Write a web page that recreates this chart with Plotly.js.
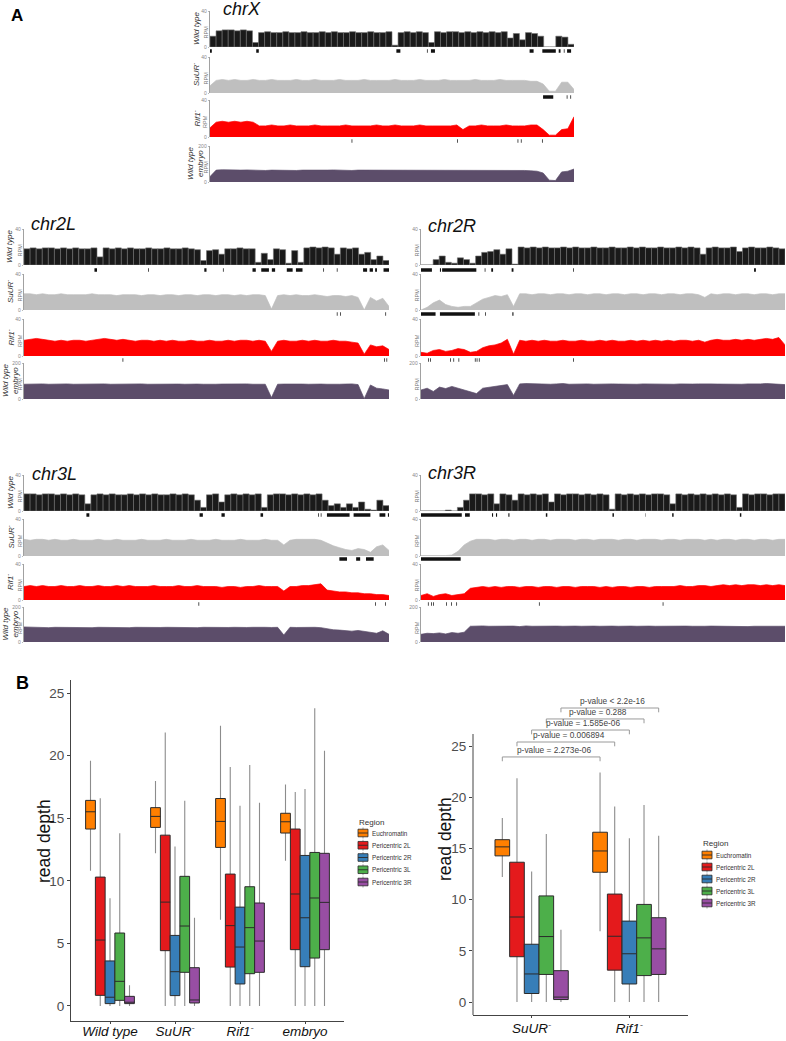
<!DOCTYPE html>
<html><head><meta charset="utf-8">
<script src="https://cdn.plot.ly/plotly-3.0.1.min.js"></script>
<style>html,body{margin:0;padding:0;background:#fff}#chart{width:786px;height:1041px}</style>
</head><body><div id="chart"></div>
<script>
// ================= DATA =================
const chromosomes = ['chrX','chr2L','chr2R','chr3L','chr3R'];
const sampleNames = ['Wild type','SuUR<sup>-</sup>','Rif1<sup>-</sup>','Wild type<br>embryo'];
const sampleColors = ['#1a1a1a','#bfbfbf','#ff0000','#5c4d6a'];
const rpmMax = [40,40,40,200];

// coverage (RPM) along each chromosome arm, equal-width bins
const chrX_wt = [12,18,19,19,18,19,18,5,16,17, 16,16,17,16,16,17,16,16,17,16, 17,16,16,17,16,16,17,16,16,17, 2,16,17,16,17,16,5,17,16,17, 17,16,17,16,17,16,17,16,17,10, 15,8,16,15,12,0,0,12,11,3];
const chrX_suur = [8,14,15,14,15,14,14,15,14,14, 15,14,14,14,15,14,14,15,14,14, 14,15,14,14,14,15,14,14,14,14, 15,14,14,14,15,14,14,14,15,14, 14,14,14,15,14,14,14,15,14,14, 14,14,13,13,10,2,2,12,12,4];
const chrX_rif1 = [10,16,17,16,17,16,17,16,12,12, 13,12,12,13,12,12,12,13,12,12, 12,12,13,12,12,12,12,13,12,12, 13,12,12,12,13,12,12,12,12,12, 13,8,12,12,13,12,12,12,13,12, 12,12,13,13,8,2,2,8,9,22];
const chrX_embryo = [30,66,68,66,64,66,67,65,66,64, 66,65,67,66,64,66,65,66,64,66, 67,65,66,64,66,66,65,67,66,64, 66,65,66,67,64,66,65,66,64,66, 67,65,66,64,66,65,67,66,64,66, 65,64,62,60,50,10,8,56,60,72];

const chr2L_wt = [18,19,18,19,19,18,19,18,19,18, 18,19,9,19,18,19,18,19,18,18, 19,18,18,19,18,18,19,18,17,5, 16,17,12,18,18,19,18,18,3,13, 6,18,17,2,16,3,19,20,19,20, 19,12,19,18,19,12,14,6,10,5];
const chr2L_suur = [18,18,17,18,17,17,18,17,17,17, 17,18,17,17,17,16,17,17,17,16, 17,17,16,17,17,16,17,17,16,17, 17,16,17,17,16,17,16,17,17,16, 1,16,17,16,17,16,16,17,16,15, 16,16,15,16,14,0,14,10,13,4];
const chr2L_rif1 = [17,18,19,18,17,16,17,16,17,17, 16,17,18,19,18,17,18,17,16,17, 17,16,17,16,17,16,16,17,16,16, 17,16,16,17,16,17,17,16,17,16, 5,16,17,16,16,17,16,17,16,16, 17,16,16,15,14,2,12,10,11,7];
const chr2L_embryo = [82,84,83,84,82,84,83,84,82,83, 84,82,83,84,82,83,84,82,83,84, 82,83,84,82,84,83,82,84,83,82, 84,82,83,84,82,83,84,82,83,82, 8,82,83,84,82,83,82,84,83,82, 84,82,83,84,80,2,78,60,56,50];

const chr2R_wt = [0,0,6,10,3,2,8,6,2,10, 14,15,17,12,18,1,20,19,20,19, 20,19,19,20,19,20,19,19,20,19, 19,20,19,19,20,19,20,19,19,20, 19,19,20,19,20,19,12,19,20,19, 19,20,15,19,20,19,19,20,19,18];
const chr2R_suur = [0,3,8,11,6,4,3,4,4,8, 12,14,16,15,17,4,18,18,17,18, 18,17,18,18,17,18,18,17,18,18, 17,18,18,17,18,18,17,18,18,17, 18,18,17,18,18,17,14,18,17,18, 18,17,18,18,17,18,18,17,18,18];
const chr2R_rif1 = [4,3,6,7,5,6,8,7,4,5, 9,11,12,14,18,2,17,16,17,16, 17,16,16,17,16,16,17,16,16,17, 16,17,16,16,17,16,17,16,17,16, 17,16,17,17,16,17,15,17,18,17, 17,18,17,18,17,18,19,18,20,12];
const chr2R_embryo = [50,60,42,66,58,70,60,50,40,30, 60,64,70,76,80,20,84,86,84,82, 84,82,84,86,82,84,83,84,82,84, 82,84,83,82,84,82,84,83,82,84, 83,82,84,82,83,84,82,84,83,82, 84,83,82,84,82,84,86,84,85,80];

const chr3L_wt = [19,19,18,19,19,18,19,18,19,18, 8,18,19,18,19,18,18,19,18,19, 18,19,18,18,19,18,19,18,12,4, 18,19,10,18,19,18,19,18,19,4, 18,19,19,18,19,18,19,18,19,12, 6,8,4,8,4,10,2,1,12,6];
const chr3L_suur = [18,17,18,18,17,18,17,17,18,17, 17,17,18,17,17,18,17,17,17,18, 17,17,17,18,17,17,17,18,17,17, 17,18,17,17,17,18,17,17,17,18, 17,17,12,17,18,18,18,18,17,14, 11,9,7,6,8,7,4,10,12,6];
const chr3L_rif1 = [15,16,15,16,15,15,16,15,15,16, 15,15,16,15,15,16,15,16,15,15, 15,16,15,15,15,16,15,15,16,15, 15,15,14,15,15,14,15,15,16,15, 15,15,10,15,15,16,16,17,18,11, 10,9,9,8,8,7,7,6,6,5];
const chr3L_embryo = [86,84,83,84,82,84,83,84,82,84, 83,82,84,83,82,84,83,82,84,83, 84,82,83,84,83,82,84,83,82,84, 83,84,82,83,84,82,83,84,82,84, 83,84,40,84,83,84,82,84,82,74, 70,68,66,62,66,60,58,50,64,44];

const chr3R_wt = [0,0,0,0,1,0,4,12,19,19, 18,19,8,19,18,12,19,18,19,18, 19,10,19,18,19,19,18,19,18,19, 18,2,19,18,19,18,19,18,19,19, 18,8,19,18,19,18,19,18,19,18, 19,18,4,19,18,19,19,18,19,19];
const chr3R_suur = [0.5,0.4,0.5,0.4,0.5,1,5,12,16,18, 18,18,17,18,18,17,18,18,17,18, 18,17,18,18,18,17,18,18,17,18, 18,18,17,18,18,17,18,18,18,17, 18,18,17,18,18,18,17,18,17,18, 18,17,18,18,17,18,18,17,18,18];
const chr3R_rif1 = [5,7,4,6,7,5,6,7,13,14, 15,14,15,14,15,15,14,15,15,14, 15,15,14,15,15,14,15,15,15,14, 15,14,15,15,14,15,15,14,15,15, 15,15,16,15,15,16,16,15,16,17, 16,17,16,17,17,16,17,16,17,16];
const chr3R_embryo = [44,50,48,52,46,54,50,56,90,92, 92,90,91,92,90,91,88,92,90,91, 92,90,91,90,92,91,90,92,91,90, 92,91,90,92,91,90,92,91,90,91, 90,92,90,91,90,88,90,91,90,89, 90,91,90,88,90,89,90,91,90,90];

// called domains (fraction of arm length: start, end)
const chrX_wt_domains = [[0,0.005],[0.127,0.134],[0.512,0.523],[0.596,0.598],[0.607,0.618],[0.878,0.889],[0.913,0.95],[0.958,0.963],[0.972,0.974],[0.981,0.992]];
const chrX_suur_domains = [[0.915,0.943],[0.98,0.982],[0.99,0.992]];
const chrX_rif1_domains = [[0.389,0.391],[0.679,0.681],[0.845,0.847],[0.854,0.856],[0.912,0.914]];
const chr2L_wt_domains = [[0.193,0.2],[0.34,0.342],[0.494,0.5],[0.545,0.547],[0.626,0.635],[0.65,0.671],[0.679,0.688],[0.72,0.736],[0.745,0.763],[0.82,0.822],[0.857,0.859],[0.929,0.94],[0.947,0.956],[0.962,0.967],[0.985,1.0]];
const chr2L_suur_domains = [[0.857,0.859],[0.866,0.868],[0.99,0.992]];
const chr2L_rif1_domains = [[0.27,0.272],[0.987,0.989],[0.993,0.995]];
const chr2R_wt_domains = [[0,0.03],[0.052,0.055],[0.058,0.152],[0.175,0.177],[0.193,0.198],[0.249,0.254],[0.418,0.42],[0.915,0.92]];
const chr2R_suur_domains = [[0,0.04],[0.052,0.148],[0.158,0.16],[0.176,0.178],[0.251,0.254]];
const chr2R_rif1_domains = [[0.02,0.022],[0.025,0.027],[0.08,0.082],[0.089,0.091],[0.103,0.105],[0.148,0.15],[0.153,0.155],[0.159,0.161],[0.418,0.42]];
const chr3L_wt_domains = [[0.171,0.179],[0.481,0.49],[0.541,0.55],[0.648,0.655],[0.806,0.808],[0.813,0.815],[0.83,0.892],[0.903,0.949],[0.974,0.99],[0.997,1.0]];
const chr3L_suur_domains = [[0.864,0.885],[0.91,0.921],[0.937,0.958]];
const chr3L_rif1_domains = [[0.478,0.48],[0.962,0.964],[0.989,0.991]];
const chr3R_wt_domains = [[0,0.112],[0.121,0.134],[0.195,0.198],[0.206,0.209],[0.24,0.243],[0.343,0.347],[0.526,0.53],[0.616,0.617],[0.69,0.694],[0.876,0.88]];
const chr3R_suur_domains = [[0,0.109]];
const chr3R_rif1_domains = [[0.019,0.021],[0.028,0.03],[0.033,0.035],[0.069,0.071],[0.083,0.085],[0.097,0.099],[0.324,0.326],[0.664,0.666]];

// Panel B: read depth box statistics
const regions = ['Euchromatin','Pericentric 2L','Pericentric 2R','Pericentric 3L','Pericentric 3R'];
const regionColors = ['#ff7f00','#e41a1c','#377eb8','#4daf4a','#984ea3'];
const genotypes = ['Wild type','SuUR-','Rif1-','embryo'];
const genotypeLabels = ['<i>Wild type</i>','<i>SuUR<sup>-</sup></i>','<i>Rif1<sup>-</sup></i>','<i>embryo</i>'];
// rows = regions, columns = genotypes
const q1Values     = [[14.14,14.27,12.67,13.82],[0.85,4.42,3.11,4.5],[0.19,0.83,1.76,3.14],[0.45,2.69,2.58,3.83],[0.19,0.24,2.69,4.5]];
const medianValues = [[15.52,15.15,14.75,14.72],[5.27,8.3,6.42,8.95],[0.7,2.74,4.71,7.05],[1.97,6.39,6.26,8.63],[0.3,0.48,5.19,8.28]];
const q3Values     = [[16.43,15.85,16.58,15.4],[10.3,13.65,10.54,14.14],[3.6,5.64,7.9,12.03],[5.83,10.36,9.53,12.27],[0.77,3.06,8.23,12.2]];
const lowerValues  = [[10.8,12.2,6.9,11.6],[0,0,0,0],[0,0,0,0],[0,0,0,0],[0,0,0,0]];
const upperValues  = [[19.6,17.97,22.4,17.7],[16.6,21.85,19.09,17.1],[8.6,12.75,16.0,17.33],[13.8,16.4,19.25,23.8],[1.65,7.05,16.24,20.4]];
const pValueLabels = ['p-value = 2.273e-06','p-value = 0.006894','p-value = 1.585e-06','p-value = 0.288','p-value < 2.2e-16'];

// ================= LAYOUT / DRAWING =================
const W = 786, H = 1041;
const FONT = 'Liberation Sans, Arial, Helvetica, sans-serif';
const trackData = {
  chrX:[chrX_wt,chrX_suur,chrX_rif1,chrX_embryo], chr2L:[chr2L_wt,chr2L_suur,chr2L_rif1,chr2L_embryo],
  chr2R:[chr2R_wt,chr2R_suur,chr2R_rif1,chr2R_embryo], chr3L:[chr3L_wt,chr3L_suur,chr3L_rif1,chr3L_embryo],
  chr3R:[chr3R_wt,chr3R_suur,chr3R_rif1,chr3R_embryo]};
const domainData = {
  chrX:[chrX_wt_domains,chrX_suur_domains,chrX_rif1_domains], chr2L:[chr2L_wt_domains,chr2L_suur_domains,chr2L_rif1_domains],
  chr2R:[chr2R_wt_domains,chr2R_suur_domains,chr2R_rif1_domains], chr3L:[chr3L_wt_domains,chr3L_suur_domains,chr3L_rif1_domains],
  chr3R:[chr3R_wt_domains,chr3R_suur_domains,chr3R_rif1_domains]};
const geom = {
  chrX: {x0:210,x1:574,top:[11,57,100,146],base:[47,93,137,182],mark:[51,97,141],title:[222,9],labels:true},
  chr2L:{x0:24,x1:389,top:[229,274,319,363],base:[265,310,356,399],mark:[270,314,360],title:[30,224],labels:true},
  chr2R:{x0:421,x1:785,top:[229,274,319,363],base:[265,310,356,399],mark:[270,314,360],title:[427,226],labels:false},
  chr3L:{x0:24,x1:389,top:[475,519,564,607],base:[511,556,600,642],mark:[515,559,604],title:[31,474],labels:true},
  chr3R:{x0:421,x1:785,top:[475,519,564,607],base:[511,556,600,642],mark:[515,559,604],title:[427,473],labels:false}
};

const layout = {width:W,height:H,margin:{l:0,r:0,t:0,b:0,pad:0},paper_bgcolor:'#fff',plot_bgcolor:'rgba(0,0,0,0)',
  showlegend:false,boxmode:'group',boxgap:0.25,boxgroupgap:0,font:{family:FONT,color:'#222'},shapes:[],annotations:[]};
const data = [];
const axName = (l,n)=> l+'axis'+(n===1?'':n);
const ref = (l,n)=> l+(n===1?'':n);
function note(text,xpx,ypx,opt){
  layout.annotations.push(Object.assign({text:text,x:xpx/W,y:1-ypx/H,xref:'paper',yref:'paper',showarrow:false,
    xanchor:'center',yanchor:'middle',borderpad:0},opt||{}));
}
let yCount = 0, xCount = 0;

chromosomes.forEach(chr=>{
  const g = geom[chr];
  const xn = ++xCount;
  const xa = {domain:[g.x0/W,g.x1/W],range:[0,1],visible:false,fixedrange:true};
  layout[axName('x',xn)] = xa;
  trackData[chr].forEach((vals,si)=>{
    const yn = ++yCount;
    if(si===0) xa.anchor = ref('y',yn);
    layout[axName('y',yn)] = {domain:[1-g.base[si]/H,1-g.top[si]/H],anchor:ref('x',xn),range:[0,rpmMax[si]],
      showline:true,linecolor:'#8a8a8a',linewidth:0.8,ticks:'outside',ticklen:1.5,tickwidth:0.6,tickcolor:'#8a8a8a',
      tickvals:[0,rpmMax[si]],ticktext:['0',String(rpmMax[si])],tickfont:{size:5,color:'#888'},showgrid:false,zeroline:false,fixedrange:true};
    const n = vals.length;
    const col = sampleColors[si];
    if(si===0){
      data.push({type:'bar',x:vals.map((v,i)=>(i+0.5)/n),y:vals,width:1/n,marker:{color:col,line:{width:0.6,color:'#707070'}},
        xaxis:ref('x',xn),yaxis:ref('y',yn),hoverinfo:'skip'});
    } else {
      data.push({type:'scatter',mode:'lines',x:vals.map((v,i)=>i/(n-1)),y:vals,fill:'tozeroy',fillcolor:col,
        line:{color:col,width:0.7},xaxis:ref('x',xn),yaxis:ref('y',yn),hoverinfo:'skip'});
    }
    note('RPM',g.x0-4.5,(g.top[si]+g.base[si])/2+3,{textangle:-90,font:{size:5.5,color:'#777',family:FONT}});
    if(g.labels){
      note(sampleNames[si],g.x0-14,(g.top[si]+g.base[si])/2,{textangle:-90,font:{size:8,color:'#333',family:FONT,style:'italic'}});
    }
    if(si<3 && domainData[chr][si]){
      const mn = ++yCount;
      const m = g.mark[si];
      layout[axName('y',mn)] = {domain:[1-(m+2.5)/H,1-(m-2.5)/H],anchor:ref('x',xn),range:[0,1],visible:false,fixedrange:true};
      const mx=[],my=[];
      domainData[chr][si].forEach(d=>{mx.push(d[0],d[1],null);my.push(0.5,0.5,null);});
      data.push({type:'scatter',mode:'lines',x:mx,y:my,line:{color:'#111',width:3.5},connectgaps:false,
        xaxis:ref('x',xn),yaxis:ref('y',mn),hoverinfo:'skip'});
    }
  });
  note(chr,g.title[0],g.title[1],{xanchor:'left',font:{size:18,color:'#111',family:FONT,style:'italic'}});
});

note('<b>A</b>',17,15,{font:{size:17,color:'#000',family:FONT}});
note('<b>B</b>',22,683,{font:{size:18,color:'#000',family:FONT}});

// ---------- Panel B ----------
function boxPanel(cols, xDom, yDom, xRange, yRange, drawYLine, labelShift){
  const xn = ++xCount, yn = ++yCount;
  const cats = cols.map(c=>genotypes[c]);
  layout[axName('x',xn)] = {domain:[xDom[0]/W,xDom[1]/W],anchor:ref('y',yn),type:'category',categoryarray:cats,
    range:xRange,showline:true,linecolor:'#444',linewidth:1,ticks:'outside',ticklen:2,tickcolor:'#444',
    ticklabelstandoff:labelShift,
    tickvals:cats,ticktext:cols.map(c=>genotypeLabels[c]),tickfont:{size:13.5,color:'#111',family:FONT},
    showgrid:false,zeroline:false,fixedrange:true};
  layout[axName('y',yn)] = {domain:[1-yDom[1]/H,1-yDom[0]/H],anchor:ref('x',xn),range:yRange,
    showline:drawYLine,linecolor:'#444',linewidth:1,ticks:'outside',ticklen:3,tickcolor:'#444',
    tickvals:[0,5,10,15,20,25],tickfont:{size:13.5,color:'#4d4d4d',family:FONT},showgrid:false,zeroline:false,fixedrange:true};
  regions.forEach((r,ri)=>{
    const pick = arr=>cols.map(c=>arr[ri][c]);
    data.push({type:'box',x:cats,q1:pick(medianValues),median:pick(medianValues),q3:pick(medianValues),
      lowerfence:pick(lowerValues),upperfence:pick(upperValues),offsetgroup:'g'+ri,whiskerwidth:0,boxpoints:false,
      line:{color:'#8c8c8c',width:1.1},fillcolor:'rgba(0,0,0,0)',xaxis:ref('x',xn),yaxis:ref('y',yn),hoverinfo:'skip'});
  });
  regions.forEach((r,ri)=>{
    const pick = arr=>cols.map(c=>arr[ri][c]);
    data.push({type:'box',name:r,x:cats,q1:pick(q1Values),median:pick(medianValues),q3:pick(q3Values),
      lowerfence:pick(q1Values),upperfence:pick(q3Values),offsetgroup:'g'+ri,whiskerwidth:0,boxpoints:false,
      line:{color:'#2b2b2b',width:1},fillcolor:regionColors[ri],xaxis:ref('x',xn),yaxis:ref('y',yn),hoverinfo:'skip'});
  });
  return {xn,yn};
}
function legendBlock(x, yTitle, yFirst, step, titleSize, itemSize){
  note('Region',x,yTitle,{xanchor:'left',font:{size:titleSize,color:'#333',family:FONT}});
  regions.forEach((r,ri)=>{
    const yc = yFirst + ri*step;
    layout.shapes.push({type:'line',xref:'paper',yref:'paper',x0:(x+5)/W,x1:(x+5)/W,y0:1-(yc-5.5)/H,y1:1-(yc+5.5)/H,line:{color:'#8c8c8c',width:0.8}});
    layout.shapes.push({type:'rect',xref:'paper',yref:'paper',x0:x/W,x1:(x+10)/W,y0:1-(yc+3.8)/H,y1:1-(yc-3.8)/H,fillcolor:regionColors[ri],line:{color:'#2b2b2b',width:0.8}});
    layout.shapes.push({type:'line',xref:'paper',yref:'paper',x0:x/W,x1:(x+10)/W,y0:1-yc/H,y1:1-yc/H,line:{color:'#2b2b2b',width:0.9}});
    note(r,x+13,yc,{xanchor:'left',font:{size:itemSize,color:'#333',family:FONT}});
  });
}

// left panel (all genotypes)
boxPanel([0,1,2,3],[71,344],[680,1021],[-0.6,3.6],[-1.2,26.05],true,-4);
note('read depth',44,841,{textangle:-90,font:{size:17.5,color:'#111',family:FONT}});
legendBlock(358,822,833,12.25,8,6.3);

// right panel (SuUR- vs Rif1-) with significance brackets
const right = boxPanel([1,2],[473,688],[695,1015],[-0.6,1.6],[-1.27,29.98],false,-1);
layout.shapes.push({type:'line',xref:'paper',yref:'paper',x0:473/W,x1:473/W,y0:1-734/H,y1:1-1015/H,line:{color:'#444',width:1}});
note('read depth',445,839,{textangle:-90,font:{size:17.5,color:'#111',family:FONT}});
legendBlock(702,843,855,12,8,6.3);
const bracketLevels = [23.93,25.39,26.56,27.64,28.71];
const offsets = regions.map((r,ri)=>(ri-2)*0.15);
pValueLabels.forEach((lab,ri)=>{
  const xa = 0+offsets[ri], xb = 1+offsets[ri], yb = bracketLevels[ri], leg = 0.42;
  const xr = ref('x',right.xn), yr = ref('y',right.yn);
  layout.shapes.push({type:'path',xref:xr,yref:yr,path:`M${xa},${yb-leg} L${xa},${yb} L${xb},${yb} L${xb},${yb-leg}`,line:{color:'#9a9a9a',width:1}});
  layout.annotations.push({text:lab,x:(xa+xb)/2+0.03,y:yb+0.08,xref:xr,yref:yr,showarrow:false,xanchor:'center',yanchor:'bottom',
    borderpad:0,font:{size:8.3,color:'#444',family:FONT}});
});

Plotly.newPlot('chart',data,layout,{displayModeBar:false,staticPlot:true});
</script></body></html>
